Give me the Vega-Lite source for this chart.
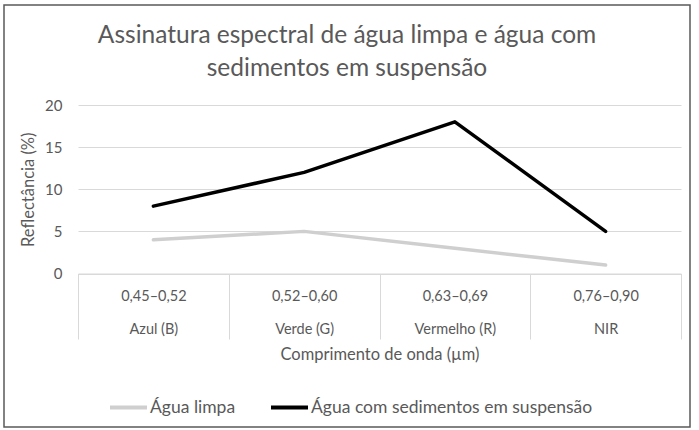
{
  "$schema": "https://vega.github.io/schema/vega-lite/v6.json",
  "width": 686,
  "height": 422,
  "autosize": "none",
  "padding": {"left": 4, "top": 5, "right": 9, "bottom": 3},
  "background": "white",
  "config": {
    "font": "Lato",
    "view": {"stroke": "#5a5a5a", "strokeWidth": 1.5}
  },
  "title": {
    "text": ["Assinatura espectral de água limpa e água com", "sedimentos em suspensão"],
    "anchor": "middle",
    "fontSize": 24.5,
    "fontWeight": "normal",
    "color": "#595959",
    "lineHeight": 33,
    "offset": -76
  },
  "data": {
    "values": [
      {"faixa": "0,45–0,52\nAzul (B)", "serie": "Água limpa", "valor": 4},
      {"faixa": "0,52–0,60\nVerde (G)", "serie": "Água limpa", "valor": 5},
      {"faixa": "0,63–0,69\nVermelho (R)", "serie": "Água limpa", "valor": 3},
      {"faixa": "0,76–0,90\nNIR", "serie": "Água limpa", "valor": 1},
      {"faixa": "0,45–0,52\nAzul (B)", "serie": "Água com sedimentos em suspensão", "valor": 8},
      {"faixa": "0,52–0,60\nVerde (G)", "serie": "Água com sedimentos em suspensão", "valor": 12},
      {"faixa": "0,63–0,69\nVermelho (R)", "serie": "Água com sedimentos em suspensão", "valor": 18},
      {"faixa": "0,76–0,90\nNIR", "serie": "Água com sedimentos em suspensão", "valor": 5}
    ]
  },
  "mark": {"type": "line", "strokeWidth": 3.5, "strokeCap": "round", "strokeJoin": "round"},
  "encoding": {
    "x": {
      "field": "faixa",
      "type": "nominal",
      "sort": null,
      "scale": {"type": "band", "range": [74, 677], "paddingInner": 0, "paddingOuter": 0},
      "axis": {
        "orient": "bottom",
        "offset": -153.5,
        "tickBand": "extent",
        "tickSize": 65.5,
        "tickColor": "#d9d9d9",
        "domainColor": "#d9d9d9",
        "labelAngle": 0,
        "labelExpr": "split(datum.label, '\\n')",
        "labelLineHeight": 33,
        "labelPadding": -50,
        "labelFontSize": 14.5,
        "labelColor": "#595959",
        "title": "Comprimento de onda (µm)",
        "titleFontSize": 16.5,
        "titleFontWeight": "normal",
        "titleColor": "#595959",
        "titlePadding": 7
      }
    },
    "y": {
      "field": "valor",
      "type": "quantitative",
      "scale": {"domain": [0, 20], "range": [268.5, 100]},
      "axis": {
        "values": [0, 5, 10, 15, 20],
        "offset": -74,
        "domain": false,
        "ticks": false,
        "gridColor": "#d9d9d9",
        "labelFontSize": 15,
        "labelColor": "#595959",
        "labelPadding": 16,
        "title": "Reflectância (%)",
        "titleFontSize": 16.5,
        "titleFontWeight": "normal",
        "titleColor": "#595959",
        "titlePadding": 8
      }
    },
    "color": {
      "field": "serie",
      "type": "nominal",
      "scale": {
        "domain": ["Água limpa", "Água com sedimentos em suspensão"],
        "range": ["#cfcfcf", "#000000"]
      },
      "legend": {
        "title": null,
        "orient": "none",
        "direction": "horizontal",
        "legendX": 104,
        "legendY": 382,
        "symbolType": "stroke",
        "symbolSize": 1369,
        "symbolStrokeWidth": 4,
        "labelFontSize": 17.5,
        "labelColor": "#595959",
        "labelOffset": 1,
        "labelLimit": 400,
        "columnPadding": 27
      }
    }
  }
}
